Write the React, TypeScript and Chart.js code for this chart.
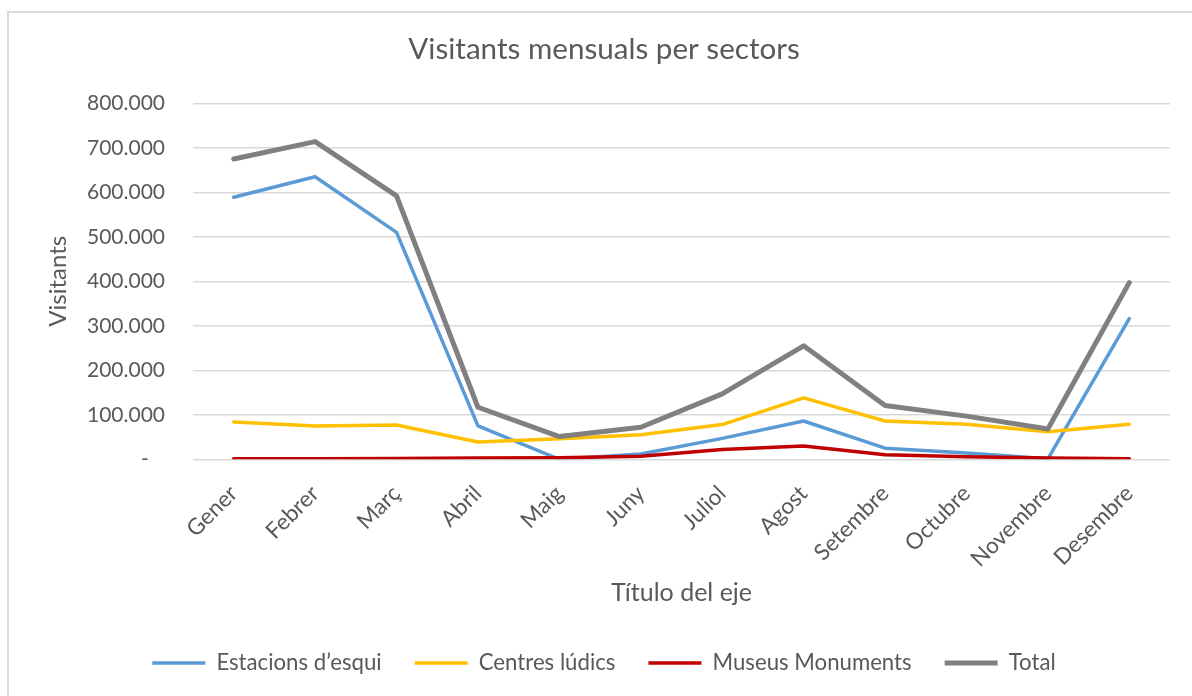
import React, { useEffect, useRef } from 'react';
import { Chart, registerables } from 'chart.js';

Chart.register(...registerables);

const months = ['Gener', 'Febrer', 'Març', 'Abril', 'Maig', 'Juny', 'Juliol', 'Agost', 'Setembre', 'Octubre', 'Novembre', 'Desembre'];
const estacions = [589000, 635000, 510000, 75000, 0, 12000, 47000, 86000, 25000, 14000, 1000, 316000];
const centres = [84000, 75000, 77000, 39000, 46000, 55000, 78000, 138000, 86000, 79000, 62000, 79000];
const museus = [1000, 1000, 2000, 3000, 3500, 7000, 22000, 30000, 10000, 6000, 3000, 1500];
const total = [675000, 714000, 592000, 117000, 51000, 72000, 147000, 255000, 121000, 97000, 68000, 397000];

const seriesNames = ['Estacions d’esqui', 'Centres lúdics', 'Museus Monuments', 'Total'];
const seriesColors = ['#5B9BD5', '#FFC000', '#C00000', '#808080'];
const chartTitle = 'Visitants mensuals per sectors';
const yTitle = 'Visitants';
const xTitle = 'Título del eje';

const TEXT = '#595959';
const FONT = 'Lato';

function fmt(v: number): string {
  if (v === 0) return '-   ';
  return String(v).replace(/\B(?=(\d{3})+(?!\d))/g, '.');
}

const fullWidthPlugin = {
  id: 'fullWidthBoxes',
  afterLayout(chart: any) {
    const w = chart.width;
    [chart.titleBlock, chart.legend].forEach((b: any) => {
      if (b) {
        b.left = 0;
        b.right = w;
        b.width = w;
      }
    });
  },
};

export default function App() {
  const ref = useRef<HTMLCanvasElement | null>(null);

  useEffect(() => {
    if (!ref.current) return;
    const values = [estacions, centres, museus, total];
    const chart = new Chart(ref.current, {
      type: 'line',
      data: {
        labels: months,
        datasets: values.map((d, i) => ({
          label: seriesNames[i],
          data: d,
          borderColor: seriesColors[i],
          backgroundColor: seriesColors[i],
          borderWidth: i === 3 ? 5 : 3.5,
          pointRadius: 0,
          pointHoverRadius: 0,
          tension: 0,
          fill: false,
          borderCapStyle: 'round',
          borderJoinStyle: 'round',
          order: 3 - i,
        })),
      },
      options: {
        responsive: false,
        animation: false,
        layout: { padding: { left: 0, right: 29, top: 0, bottom: 24.9 } },
        plugins: {
          tooltip: { enabled: false },
          title: {
            display: true,
            text: chartTitle,
            color: TEXT,
            font: { family: FONT, size: 29.6, weight: 'normal', lineHeight: 1.2 },
            padding: { top: 19, bottom: 35.8 },
          },
          legend: {
            display: true,
            position: 'bottom',
            labels: {
              usePointStyle: true,
              pointStyle: 'line',
              pointStyleWidth: 53,
              color: TEXT,
              padding: 33,
              font: { family: FONT, size: 22.2 },
              sort: (a: any, b: any) => a.datasetIndex - b.datasetIndex,
            },
          },
        },
        scales: {
          x: {
            offset: true,
            grid: { display: false, drawTicks: false, offset: true },
            border: { display: false },
            ticks: {
              color: TEXT,
              font: { family: FONT, size: 22.5 },
              minRotation: 45,
              maxRotation: 45,
              autoSkip: false,
              padding: 21,
            },
            title: {
              display: true,
              text: xTitle,
              color: TEXT,
              font: { family: FONT, size: 25, lineHeight: 1 },
              padding: { top: 0, bottom: 13 },
            },
            afterFit: (s: any) => {
              s.height = 159.6;
            },
          },
          y: {
            min: 0,
            max: 800000,
            grid: { color: '#D9D9D9', lineWidth: 1.5, drawTicks: false },
            border: { display: false },
            ticks: {
              stepSize: 100000,
              color: TEXT,
              font: { family: FONT, size: 21 },
              padding: 28,
              callback: (v: any) => fmt(Number(v)),
            },
            title: {
              display: true,
              text: yTitle,
              color: TEXT,
              font: { family: FONT, size: 24, lineHeight: 1.2 },
              padding: { top: 34.6, bottom: 0 },
            },
            afterFit: (s: any) => {
              s.width = 184;
            },
          },
        },
      },
      plugins: [fullWidthPlugin],
    } as any);
    return () => chart.destroy();
  }, []);

  return (
    <div style={{ position: 'fixed', left: 0, top: 0, width: 1192, height: 696, overflow: 'hidden', background: '#fff' }}>
      <div style={{ position: 'absolute', left: 7, top: 11, width: 1190, height: 696, border: '2px solid #D9D9D9', background: '#fff' }}>
        <canvas ref={ref} width={1190} height={696} style={{ display: 'block', width: 1190, height: 696 }} />
      </div>
    </div>
  );
}
